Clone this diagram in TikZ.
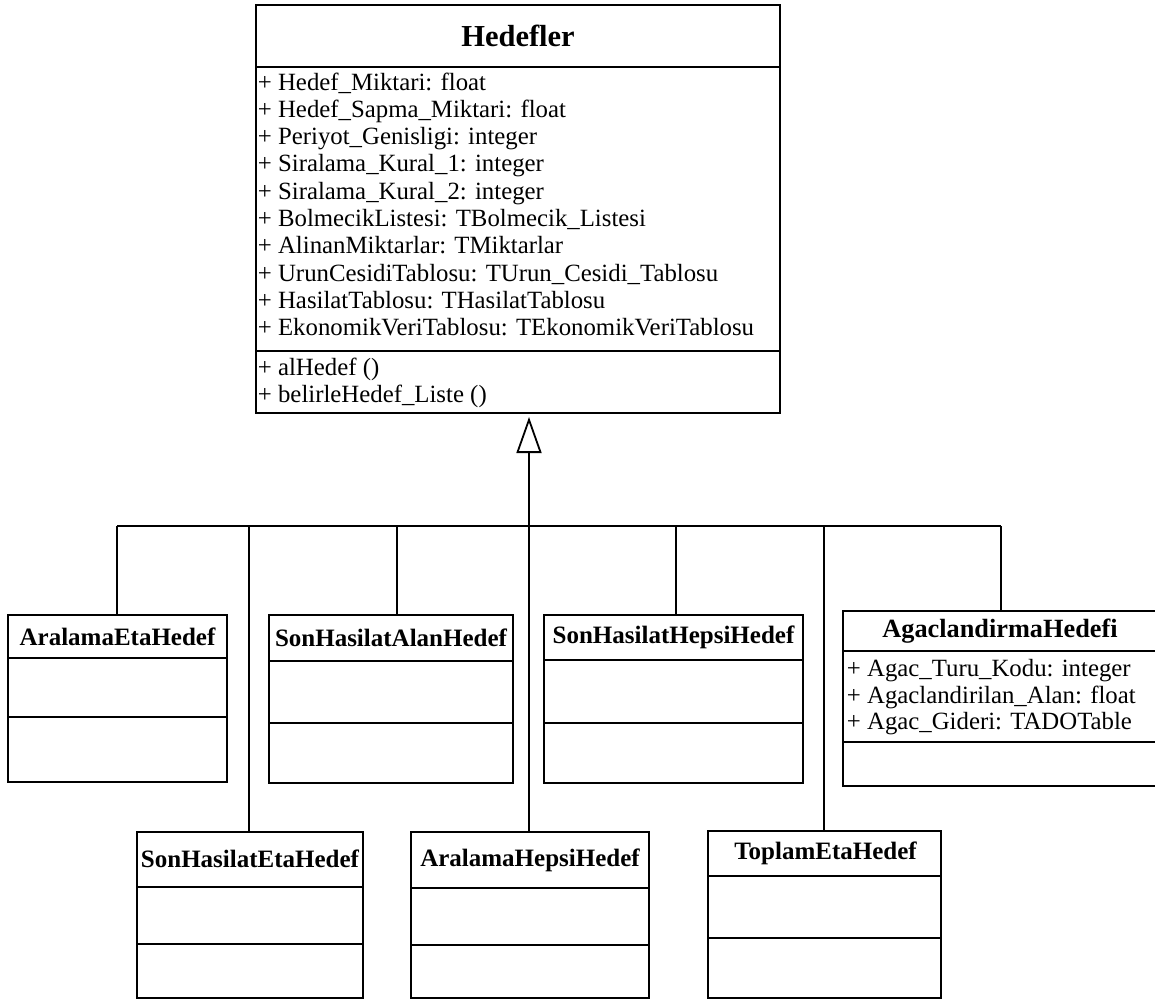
\documentclass[tikz,border=0pt]{standalone}
\usepackage{fontspec}
\setmainfont{Liberation Serif}
\usetikzlibrary{arrows.meta}
\begin{document}
\begin{tikzpicture}[x=1pt,y=-1pt,
  line width=1.8pt,
  box/.style={draw, line width=1.8pt, inner sep=0pt, outer sep=0pt, anchor=north west},
  cname/.style={inner sep=0pt, font=\fontsize{25}{25}\selectfont\bfseries},
  ctitle/.style={inner sep=0pt, font=\fontsize{30.5}{30.5}\selectfont\bfseries},
  attr/.style={anchor=west, inner sep=0pt, text height=17pt, text depth=5pt, font=\fontsize{24.8}{27}\selectfont},
  link/.style={line width=1.8pt},
  inherit/.style={-{Triangle[open,length=36pt,width=25pt]}, shorten >=4pt}
]
\useasboundingbox (0,0) rectangle (1155,999);

% ---- superclass Hedefler ----
\node[box, minimum width=524pt, minimum height=408pt] (hedef) at (256,5) {};
\node[ctitle] (hedefT) at (518,36) {Hedefler};
\draw (hedef.west |- 0,67) -- (hedef.east |- 0,67);
\draw (hedef.west |- 0,351) -- (hedef.east |- 0,351);
\foreach \t [count=\i] in {
  {+ Hedef\_Miktari: float},
  {+ Hedef\_Sapma\_Miktari: float},
  {+ Periyot\_Genisligi: integer},
  {+ Siralama\_Kural\_1: integer},
  {+ Siralama\_Kural\_2: integer},
  {+ BolmecikListesi: TBolmecik\_Listesi},
  {+ AlinanMiktarlar: TMiktarlar},
  {+ UrunCesidiTablosu: TUrun\_Cesidi\_Tablosu},
  {+ HasilatTablosu: THasilatTablosu},
  {+ EkonomikVeriTablosu: TEkonomikVeriTablosu}}
  \node[attr] (ha\i) at (257,{84+27.3*(\i-1)}) {\t};
\node[attr] (hm1) at (257,369) {+ alHedef ()};
\node[attr] (hm2) at (257,396) {+ belirleHedef\_Liste ()};

% ---- subclasses, upper row ----
\node[box, minimum width=219pt, minimum height=167pt] (aeh) at (8,615) {};
\node[cname] (aehT) at (117.5,637) {AralamaEtaHedef};
\draw (aeh.west |- 0,658) -- (aeh.east |- 0,658);
\draw (aeh.west |- 0,717) -- (aeh.east |- 0,717);

\node[box, minimum width=244pt, minimum height=168pt] (sha) at (269,615) {};
\node[cname] (shaT) at (391,638) {SonHasilatAlanHedef};
\draw (sha.west |- 0,661) -- (sha.east |- 0,661);
\draw (sha.west |- 0,723) -- (sha.east |- 0,723);

\node[box, minimum width=259pt, minimum height=168pt] (shh) at (544,615) {};
\node[cname] (shhT) at (673.5,637) {SonHasilatHepsiHedef};
\draw (shh.west |- 0,660) -- (shh.east |- 0,660);
\draw (shh.west |- 0,723) -- (shh.east |- 0,723);

\node[box, minimum width=314pt, minimum height=175pt] (agac) at (843,611) {};
\node[cname, font=\fontsize{26.3}{26.3}\selectfont\bfseries] (agacT) at (1000,631) {AgaclandirmaHedefi};
\draw (agac.west |- 0,651) -- (agac.east |- 0,651);
\draw (agac.west |- 0,742) -- (agac.east |- 0,742);
\node[attr] (ga1) at (846,670) {+ Agac\_Turu\_Kodu: integer};
\node[attr] (ga2) at (846,697) {+ Agaclandirilan\_Alan: float};
\node[attr] (ga3) at (846,723) {+ Agac\_Gideri: TADOTable};

% ---- subclasses, lower row ----
\node[box, minimum width=226pt, minimum height=166pt] (she) at (137,832) {};
\node[cname] (sheT) at (250,859) {SonHasilatEtaHedef};
\draw (she.west |- 0,887) -- (she.east |- 0,887);
\draw (she.west |- 0,944) -- (she.east |- 0,944);

\node[box, minimum width=238pt, minimum height=166pt] (ahh) at (411,832) {};
\node[cname] (ahhT) at (530,860) {AralamaHepsiHedef};
\draw (ahh.west |- 0,888) -- (ahh.east |- 0,888);
\draw (ahh.west |- 0,945) -- (ahh.east |- 0,945);

\node[box, minimum width=233pt, minimum height=167pt] (teh) at (708,831) {};
\node[cname] (tehT) at (825.5,853.5) {ToplamEtaHedef};
\draw (teh.west |- 0,876) -- (teh.east |- 0,876);
\draw (teh.west |- 0,938) -- (teh.east |- 0,938);

% ---- generalisation tree ----
\coordinate (j1) at (117,526);
\coordinate (j2) at (249,526);
\coordinate (j3) at (397,526);
\coordinate (j4) at (529,526);
\coordinate (j5) at (676,526);
\coordinate (j6) at (824,526);
\coordinate (j7) at (1001,526);
\draw[link] (j1) -- (j7);
\draw[link] (j1) -- (j1 |- aeh.north);
\draw[link] (j2) -- (j2 |- she.north);
\draw[link] (j3) -- (j3 |- sha.north);
\draw[link] (j4) -- (j4 |- ahh.north);
\draw[link] (j5) -- (j5 |- shh.north);
\draw[link] (j6) -- (j6 |- teh.north);
\draw[link] (j7) -- (j7 |- agac.north);
\draw[link, inherit] (j4) -- (j4 |- hedef.south);
\end{tikzpicture}
\end{document}
